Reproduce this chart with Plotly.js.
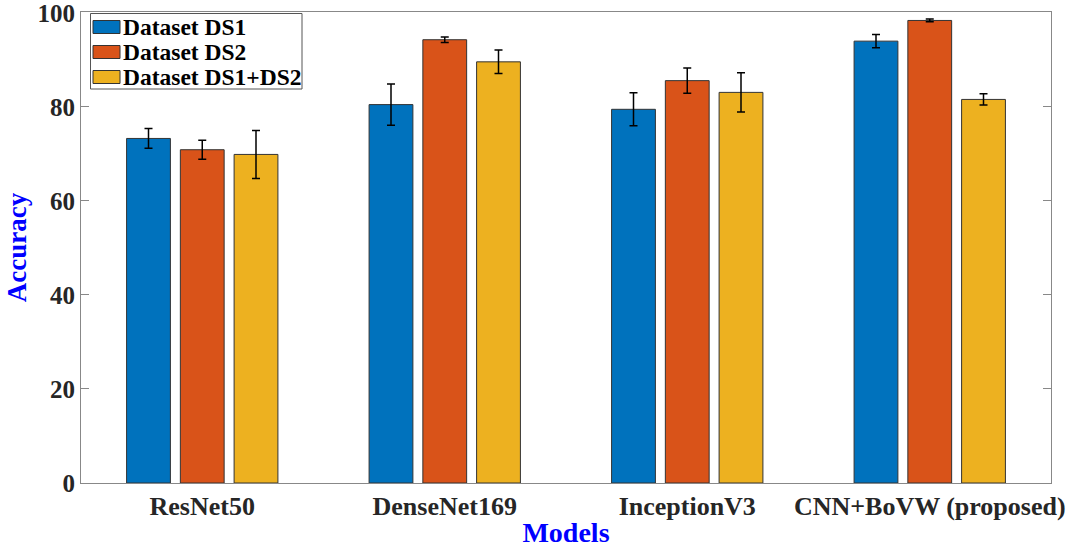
<!DOCTYPE html>
<html>
<head>
<meta charset="utf-8">
<script src="https://cdn.plot.ly/plotly-3.0.1.min.js"></script>
<style>html,body{margin:0;padding:0;background:#fff;}#chart{width:1069px;height:548px;}</style>
</head>
<body>
<div id="chart"></div>
<script>
const models = ["ResNet50", "DenseNet169", "InceptionV3", "CNN+BoVW (proposed)"];
const seriesNames = ["Dataset DS1", "Dataset DS2", "Dataset DS1+DS2"];
const ds1 = [73.3, 80.5, 79.5, 94.0];
const ds2 = [70.9, 94.3, 85.6, 98.4];
const ds12 = [69.9, 89.6, 83.1, 81.6];
const ds1Err = [2.1, 4.4, 3.5, 1.4];
const ds2Err = [2.0, 0.6, 2.7, 0.3];
const ds12Err = [5.1, 2.5, 4.2, 1.2];
const colors = ["#0072BD", "#D95319", "#EDB120"];
const yTicks = [0, 20, 40, 60, 80, 100];

const font = "Liberation Serif, Times New Roman, serif";
const xPos = models.map((m, i) => i + 1);
const vals = [ds1, ds2, ds12];
const errs = [ds1Err, ds2Err, ds12Err];

const traces = vals.map((v, k) => ({
  type: "bar",
  name: seriesNames[k],
  x: xPos,
  y: v,
  showlegend: false,
  marker: {color: colors[k], line: {color: "#333333", width: 1}},
  error_y: {type: "data", array: errs[k], visible: true, color: "#000000", thickness: 1.5, width: 4}
}));

// Plot area in pixels: left 81, right 1051, top 12, bottom 483
const W = 970, H = 471;
const px = x => (x - 81) / W;
const py = y => (483 - y) / H;

const shapes = [{
  type: "rect", xref: "paper", yref: "paper",
  x0: px(90.5), x1: px(302), y0: py(89), y1: py(13.5),
  fillcolor: "#ffffff", line: {color: "#555555", width: 1}, layer: "above"
}];
const annotations = [];
const rowY = [27, 52, 77];
seriesNames.forEach((n, k) => {
  shapes.push({
    type: "rect", xref: "paper", yref: "paper",
    x0: px(93), x1: px(120), y0: py(rowY[k] + 6.5), y1: py(rowY[k] - 6.5),
    fillcolor: colors[k], line: {color: "#333333", width: 1}, layer: "above"
  });
  annotations.push({
    xref: "paper", yref: "paper", x: px(121), y: py(rowY[k]),
    xanchor: "left", yanchor: "middle", showarrow: false,
    text: "<b>" + n + "</b>",
    font: {family: font, size: 23.5, color: "#000000"}
  });
});

const layout = {
  width: 1069,
  height: 548,
  margin: {l: 81, r: 18, t: 12, b: 65},
  paper_bgcolor: "#ffffff",
  plot_bgcolor: "#ffffff",
  barmode: "group",
  bargap: 0.335,
  bargroupgap: 0.185,
  showlegend: false,
  shapes: shapes,
  annotations: annotations,
  xaxis: {
    range: [0.5, 4.5],
    tickmode: "array",
    tickvals: xPos,
    ticktext: models.map(m => "<b>" + m + "</b>"),
    tickfont: {family: font, size: 26, color: "#262626"},
    ticks: "",
    ticklabeloverflow: "allow",
    showline: true, linecolor: "#888888", linewidth: 1, mirror: true,
    showgrid: false, zeroline: false,
    title: {text: "<b>Models</b>", font: {family: font, size: 28, color: "#0000ff"}, standoff: 6}
  },
  yaxis: {
    range: [0, 100.2],
    tickmode: "array",
    tickvals: yTicks,
    ticktext: yTicks.map(t => "<b>" + t + "</b>"),
    tickfont: {family: font, size: 25, color: "#262626"},
    ticks: "inside", ticklen: 8, tickcolor: "#888888",
    ticklabeloverflow: "allow",
    showline: true, linecolor: "#888888", linewidth: 1, mirror: "ticks",
    showgrid: false, zeroline: false,
    title: {text: "<b>Accuracy</b>", font: {family: font, size: 27, color: "#0000ff"}, standoff: 3}
  }
};

Plotly.newPlot("chart", traces, layout, {displayModeBar: false, staticPlot: true});
</script>
</body>
</html>
